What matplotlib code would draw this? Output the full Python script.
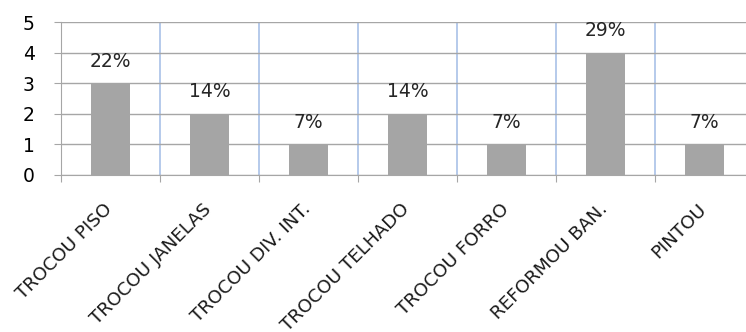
import matplotlib.pyplot as plt
import numpy as np

# dados do grafico
categorias = ["TROCOU PISO", "TROCOU JANELAS", "TROCOU DIV. INT.", "TROCOU TELHADO",
              "TROCOU FORRO", "REFORMOU BAN.", "PINTOU"]
valores = [3, 2, 1, 2, 1, 4, 1]
rotulos = ["22%", "14%", "7%", "14%", "7%", "29%", "7%"]

fig = plt.figure(figsize=(7.46, 3.32), dpi=100)
ax = fig.add_axes([61 / 746, 1 - 175 / 332, 693 / 746, 153 / 332])

x = np.arange(len(categorias))
ax.bar(x, valores, width=0.4, color="#a5a5a5", zorder=3)

for xi, v, r in zip(x, valores, rotulos):
    ax.annotate(r, (xi, v), xytext=(0, 9), textcoords="offset points",
                ha="center", va="bottom", fontsize=13.5, color="#262626", zorder=4)

ax.set_xlim(-0.5, len(categorias) - 0.5)
ax.set_ylim(0, 5)

# linhas de grade
ax.set_yticks(range(6))
ax.yaxis.grid(True, color="#a6a6a6", lw=1, zorder=0)
for b in np.arange(0.5, len(categorias) - 0.5):
    ax.axvline(b, color="#a9c1e8", lw=1.2, zorder=1)

ax.set_xticks(np.arange(-0.5, len(categorias)), minor=False)
ax.set_xticklabels([])
# rotulos levemente deslocados para a esquerda como no original
ax.set_xticks(x - 0.07, minor=True)
ax.set_xticklabels(categorias, minor=True, rotation=45, ha="right",
                   rotation_mode="anchor", fontsize=13.2, color="#1a1a1a")
ax.tick_params(axis="x", which="minor", length=0, pad=18)
ax.tick_params(axis="x", which="major", length=5, color="#a6a6a6")
ax.tick_params(axis="y", length=5, color="#a6a6a6", labelsize=13.5, pad=14)

for s in ["top", "right"]:
    ax.spines[s].set_visible(False)
ax.spines["left"].set_color("#a6a6a6")
ax.spines["bottom"].set_color("#a6a6a6")

fig.savefig("out.png", dpi=100)
